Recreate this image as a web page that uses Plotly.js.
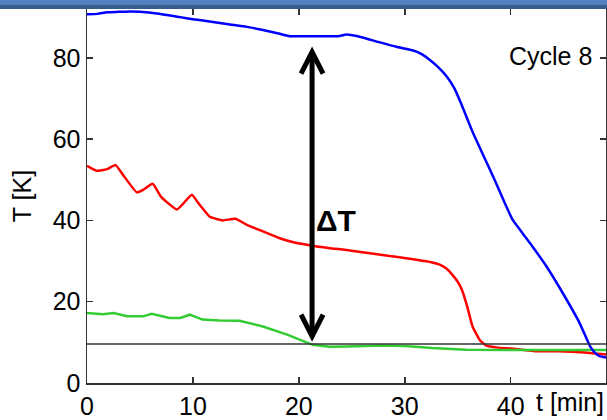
<!DOCTYPE html>
<html>
<head>
<meta charset="utf-8">
<script src="https://cdn.plot.ly/plotly-3.0.1.min.js"></script>
<style>
  html, body { margin: 0; padding: 0; background: #ffffff; }
  #wrap { position: relative; width: 607px; height: 420px; overflow: hidden; }
  #chart { position: absolute; left: 0; top: 0; width: 607px; height: 420px; }
  #topbar { position: absolute; left: 0; top: 0; width: 607px; height: 9px; z-index: 10;
            background: linear-gradient(to bottom, #5585c2 0%, #4f7fba 50%, #3a5e8e 60%, #385b8a 100%); }
</style>
</head>
<body>
<div id="wrap">
  <div id="chart"></div>
  <div id="topbar"></div>
</div>
<script>
// ---- data ----
const blueT = [0, 1, 1.9, 3, 4.1, 5, 6.6, 8.8, 10, 11.9, 13.5, 15.1, 16.5, 18.2, 19.2, 21, 23.7, 24.5, 26, 27.5, 29.2, 30.8, 31.6, 32.4, 33.2, 34, 34.7, 35.5, 36.4, 37.4, 38.5, 39.4, 40.2, 41.8, 43.4, 44.9, 46.5, 47.5, 47.9, 48.4, 49];
const blueK = [90.7, 90.8, 91.2, 91.3, 91.4, 91.3, 90.9, 90.0, 89.5, 88.8, 88.2, 87.6, 86.9, 85.9, 85.3, 85.3, 85.3, 85.7, 85.0, 83.9, 82.7, 81.8, 80.9, 79.4, 77.6, 75.3, 72.4, 67.6, 61.8, 56.1, 49.9, 44.5, 40.1, 34.5, 28.6, 22.2, 14.8, 9.0, 7.6, 6.6, 6.3];

const redT = [0, 0.9, 1.9, 2.7, 3.4, 4.7, 5.3, 6.2, 7.0, 8.5, 9.9, 10.5, 11.6, 12.8, 14.0, 15.1, 16.6, 18.2, 19.5, 21.7, 24.8, 27.9, 31.1, 32.5, 33.3, 33.9, 34.5, 35.0, 35.4, 35.9, 36.4, 37.1, 37.7, 38.8, 40, 42.5, 44.5, 47, 49];
const redK = [53.4, 52.2, 52.6, 53.6, 51.2, 46.9, 47.5, 49.0, 45.8, 42.7, 46.3, 44.3, 40.9, 40.0, 40.4, 38.9, 37.3, 35.6, 34.6, 33.6, 32.6, 31.5, 30.3, 29.7, 29.1, 28.2, 26.6, 24.9, 22.9, 18.8, 13.9, 10.5, 9.2, 8.7, 8.5, 7.8, 7.8, 7.5, 7.0];

const greenT = [0, 1.5, 2.5, 3.8, 5.3, 6.1, 7.8, 8.8, 9.7, 10.9, 12.5, 14.4, 16.6, 18.9, 21.3, 22.9, 24.5, 27.9, 30, 32.6, 35.8, 38, 42, 46, 49];
const greenK = [17.2, 16.9, 17.2, 16.4, 16.4, 17.0, 16.0, 16.0, 16.8, 15.6, 15.4, 15.3, 13.9, 11.9, 9.4, 8.9, 9.0, 9.2, 9.1, 8.6, 8.2, 8.1, 8.1, 8.1, 8.1];

const refLineK = 9.6;               // thin horizontal reference line
const xTicks = [0, 10, 20, 30, 40];
const yTicks = [0, 20, 40, 60, 80];
const xRange = [0, 49];
const yRange = [0, 92];

// delta-T arrow (data coordinates)
const arrowT = 21.25;
const arrowTop = 81.4;
const arrowBottom = 11.5;
const headDx = 1.04;
const headDy = 5.3;

const FONT = 'Liberation Sans, Arial, sans-serif';

const traces = [
  { x: redT, y: redK, mode: 'lines', line: { color: '#ff0000', width: 2.5, shape: 'spline', smoothing: 0.4 }, hoverinfo: 'skip' },
  { x: greenT, y: greenK, mode: 'lines', line: { color: '#33cc33', width: 2.5 }, hoverinfo: 'skip' },
  { x: blueT, y: blueK, mode: 'lines', line: { color: '#0000ff', width: 2.5, shape: 'spline', smoothing: 0.5 }, hoverinfo: 'skip' }
];

const axisCommon = {
  showgrid: false, zeroline: false,
  showline: true, linecolor: '#333333', linewidth: 1.5,
  ticks: 'inside', ticklen: 6, tickwidth: 1.5, tickcolor: '#333333',
  mirror: 'allticks',
  tickfont: { family: FONT, size: 25, color: '#000000' }
};

const layout = {
  width: 607, height: 420,
  margin: { l: 87, r: 1, t: 9, b: 37, pad: 0 },
  paper_bgcolor: '#ffffff', plot_bgcolor: '#ffffff',
  showlegend: false,
  xaxis: Object.assign({}, axisCommon, {
    range: xRange, tickvals: xTicks, ticktext: xTicks.map(String)
  }),
  yaxis: Object.assign({}, axisCommon, {
    range: yRange, tickvals: yTicks, ticktext: yTicks.map(String),
    title: { text: 'T [K]', font: { family: FONT, size: 25, color: '#000000' }, standoff: 14 }
  }),
  shapes: [
    { type: 'line', xref: 'paper', yref: 'y', x0: 0, x1: 1, y0: refLineK, y1: refLineK,
      line: { color: '#333333', width: 1.5 } },
    { type: 'line', xref: 'x', yref: 'y', x0: arrowT, x1: arrowT, y0: arrowBottom, y1: arrowTop,
      line: { color: '#000000', width: 5 } },
    { type: 'path', xref: 'x', yref: 'y',
      path: 'M ' + (arrowT - headDx) + ',' + (arrowTop - headDy) + ' L ' + arrowT + ',' + arrowTop + ' L ' + (arrowT + headDx) + ',' + (arrowTop - headDy),
      line: { color: '#000000', width: 5 } },
    { type: 'path', xref: 'x', yref: 'y',
      path: 'M ' + (arrowT - headDx) + ',' + (arrowBottom + headDy) + ' L ' + arrowT + ',' + arrowBottom + ' L ' + (arrowT + headDx) + ',' + (arrowBottom + headDy),
      line: { color: '#000000', width: 5 } }
  ],
  annotations: [
    { text: 'Cycle 8', xref: 'x', yref: 'y', x: 47.9, y: 80.4, xanchor: 'right', yanchor: 'middle',
      showarrow: false, font: { family: FONT, size: 25, color: '#000000' } },
    { text: '<b>ΔT</b>', xref: 'x', yref: 'y', x: 23.5, y: 40.0, xanchor: 'center', yanchor: 'middle',
      showarrow: false, font: { family: FONT, size: 30, color: '#000000' } },
    { text: 't [min]', xref: 'paper', yref: 'paper', x: 1, y: 0, xanchor: 'right', yanchor: 'top',
      yshift: -3, showarrow: false, font: { family: FONT, size: 25, color: '#000000' } }
  ]
};

Plotly.newPlot('chart', traces, layout, { staticPlot: true, displayModeBar: false });
</script>
</body>
</html>
